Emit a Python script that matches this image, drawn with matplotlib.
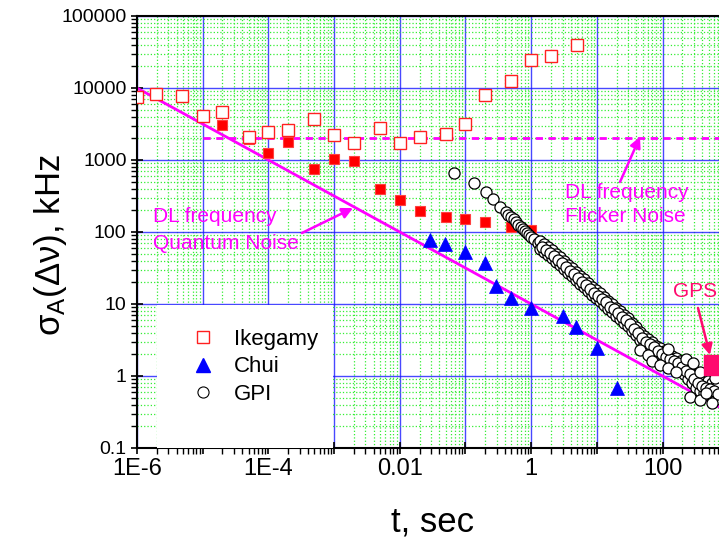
import math
import matplotlib
matplotlib.use('Agg')
import matplotlib.pyplot as plt
from matplotlib.ticker import LogLocator, FuncFormatter, NullFormatter
from matplotlib.patches import Rectangle
from matplotlib.lines import Line2D

plt.rcParams['font.family'] = ['Liberation Sans', 'DejaVu Sans']
plt.rcParams['mathtext.fontset'] = 'custom'
plt.rcParams['mathtext.rm'] = 'Liberation Sans'
plt.rcParams['mathtext.it'] = 'Liberation Sans'
plt.rcParams['mathtext.bf'] = 'Liberation Sans:bold'

# ---------------- data ----------------
ike_open_t = [1e-6, 1.95e-6, 4.8e-6, 1e-5, 2e-5, 5e-5, 1e-4, 2e-4, 5e-4, 1e-3, 2e-3,
              5e-3, 0.01, 0.02, 0.05, 0.1, 0.2, 0.5, 1.0, 2.0, 5.0]
ike_open_s = [7500, 8250, 7740, 4070, 4640, 2090, 2450, 2610, 3720, 2220, 1720,
              2780, 1720, 2090, 2300, 3160, 8000, 12500, 24500, 27800, 39500]

ike_fill_t = [2e-5, 5e-5, 1e-4, 2e-4, 5e-4, 1e-3, 2e-3, 5e-3, 0.01, 0.02, 0.05,
              0.1, 0.2, 0.5, 1.0]
ike_fill_s = [3060, 1960, 1250, 1780, 750, 1030, 970, 395, 278, 196, 162,
              151, 138, 117, 107]

chui_t = [0.029, 0.049, 0.1, 0.2, 0.29, 0.49, 1.0, 3.0, 4.8, 10.0, 20.3]
chui_s = [77, 68, 53, 37, 17.8, 12.1, 8.8, 6.8, 4.8, 2.45, 0.68]

gpi_t = [0.0668, 0.135, 0.205, 0.262, 0.335, 0.413, 0.45, 0.493, 0.54, 0.587, 0.64,
         0.700, 0.75, 0.805, 0.86, 0.925, 1.0, 1.10, 1.27, 1.51, 1.74,
         1.36, 1.36, 1.57, 1.57, 1.80, 1.80, 2.07, 2.07, 2.38, 2.38, 2.74, 2.74,
         3.16, 3.16, 3.63, 3.63, 4.18, 4.18, 4.81, 4.81, 5.53, 5.53, 6.37, 6.37,
         7.32, 7.32, 8.42, 8.42, 9.69, 9.69, 11.1, 11.1, 12.8, 12.8, 14.8, 14.8,
         17.0, 17.0, 19.5, 19.5, 22.5, 22.5, 25.8, 25.8, 29.7, 29.7, 34.2, 34.2,
         39.4, 39.4, 45.3, 45.3, 52.1, 52.1, 60.0, 60.0, 69.0, 69.0, 79.4, 79.4,
         91.3, 91.3, 105, 105, 121, 121, 139, 139, 160, 160, 184, 184, 212, 212,
         244, 244, 281, 281, 322, 322, 371, 371, 427, 427, 491, 491, 565, 565,
         650, 650,
         1.46, 1.69, 1.93, 2.22, 2.56, 2.94, 3.39, 3.90, 4.48, 5.16, 5.93, 6.83,
         7.85, 9.03, 10.4, 11.9, 13.7, 15.9, 18.2, 20.9, 24.1, 27.7, 31.9, 36.7,
         42.3, 48.6, 55.9, 64.4, 74.0, 85.2, 97.9, 113, 130, 149, 172, 197, 227,
         262, 301, 346, 398, 458, 527, 606, 697,
         45.3, 60.0, 69.0, 91.3, 121, 160, 121, 230, 290,
         261, 371, 565, 458, 371, 628]
gpi_s = [659, 480, 359, 287, 222, 190, 175, 162, 150, 138, 127,
         117, 110, 103, 97, 90.8, 85, 80, 70.4, 60, 51,
         75.0, 58.1, 68.1, 52.7, 61.9, 47.9, 56.2, 43.5, 49.5, 38.3, 45.0, 34.8,
         39.6, 30.6, 34.8, 27.0, 31.6, 24.5, 27.8, 21.5, 24.5, 19.0, 22.2, 17.2,
         19.6, 15.2, 17.2, 13.3, 15.6, 12.1, 14.2, 11.0, 12.5, 9.69, 11.0, 8.52,
         10.0, 7.74, 8.80, 6.81, 8.0, 6.19, 7.03, 5.45, 6.39, 4.95, 5.45, 4.22,
         4.79, 3.71, 4.08, 3.16, 3.59, 2.78, 3.27, 2.53, 2.97, 2.30, 2.61, 2.02,
         2.45, 1.90, 2.22, 1.72, 2.09, 1.62, 1.90, 1.47, 1.78, 1.38, 1.62, 1.25,
         1.47, 1.07, 1.33, 0.908, 1.17, 0.80, 1.07, 0.681, 0.968, 0.619, 0.908, 0.58,
         0.852, 0.545, 0.80, 0.511, 0.75, 0.48,
         62.7, 56.9, 51.8, 46.9, 41.3, 37.6, 33.1, 29.1, 26.4, 23.3, 20.5, 18.5,
         16.4, 14.3, 13.0, 11.9, 10.5, 9.2, 8.4, 7.4, 6.7, 5.9, 5.3, 4.55,
         4.0, 3.4, 3.0, 2.75, 2.5, 2.2, 2.05, 1.86, 1.75, 1.6, 1.5, 1.35, 1.19,
         1.05, 0.92, 0.81, 0.73, 0.69, 0.65, 0.61, 0.57,
         2.30, 1.96, 1.62, 1.42, 1.29, 1.14, 2.40, 1.75, 1.52,
         0.51, 0.46, 0.42, 0.58, 1.14, 0.94]

gps_t = [606]
gps_s = [1.42]

quantum_t = [1e-6, 1e3]
quantum_s = [1e4, 0.3162]
flicker_t = [1e-5, 1e3]
flicker_s = [2000, 2000]

x_labels = {-6: '1E-6', -4: '1E-4', -2: '0.01', 0: '1', 2: '100'}
y_labels = {-1: '0.1', 0: '1', 1: '10', 2: '100', 3: '1000', 4: '10000', 5: '100000'}

MAG = '#ff00ff'
PINK = '#ff0a6e'

# ---------------- figure ----------------
fig = plt.figure(figsize=(7.19, 5.41), dpi=100)
ax = fig.add_axes([137/719, 1 - 448/541, (728.3 - 137)/719, (448 - 16)/541])
ax.set_xscale('log')
ax.set_yscale('log')
ax.set_xlim(1e-6, 1e3)
ax.set_ylim(0.1, 1e5)

ax.xaxis.set_major_locator(LogLocator(base=10, numticks=20))
ax.yaxis.set_major_locator(LogLocator(base=10, numticks=20))
ax.xaxis.set_minor_locator(LogLocator(base=10, subs=range(2, 10), numticks=100))
ax.yaxis.set_minor_locator(LogLocator(base=10, subs=range(2, 10), numticks=100))

def xfmt(v, pos):
    e = int(round(math.log10(v)))
    return x_labels.get(e, '')
def yfmt(v, pos):
    e = int(round(math.log10(v)))
    return y_labels.get(e, '')
ax.xaxis.set_major_formatter(FuncFormatter(xfmt))
ax.yaxis.set_major_formatter(FuncFormatter(yfmt))
ax.xaxis.set_minor_formatter(NullFormatter())
ax.yaxis.set_minor_formatter(NullFormatter())

ax.grid(which='minor', color='#33ee33', linestyle=':', linewidth=0.9, zorder=0)
ax.grid(which='major', color='#1a1aff', linestyle='-', linewidth=1.0, alpha=0.8, zorder=0)
ax.set_axisbelow(True)

ax.tick_params(axis='both', which='major', direction='inout', length=9, width=1.2, color='black')
ax.tick_params(axis='both', which='minor', direction='out', length=4, width=1.0, color='black')
ax.tick_params(axis='x', which='major', labelsize=17, pad=3)
ax.tick_params(axis='y', which='major', labelsize=14, pad=3)
for sp in ax.spines.values():
    sp.set_linewidth(1.5)

# lines
ax.plot(quantum_t, quantum_s, color=MAG, lw=2.0, zorder=2)
ax.plot(flicker_t, flicker_s, color=MAG, lw=2.0, dashes=(2.6, 2.0), zorder=2)

# data
ax.plot(ike_fill_t, ike_fill_s, 's', ms=7.5, mfc='#ff0000', mec='#ff4040', mew=0.8, zorder=3)
ax.plot(ike_open_t, ike_open_s, 's', ms=9, mfc='white', mec='#ff2020', mew=1.0, zorder=3)
ax.plot(chui_t, chui_s, '^', ms=10, mfc='#0000ff', mec='#0000ff', mew=0.5, zorder=3)
ax.plot(gpi_t, gpi_s, 'o', ms=8, mfc='white', mec='black', mew=0.9, zorder=4)
ax.plot(gps_t, gps_s, 's', ms=14, mfc=PINK, mec=PINK, zorder=5, clip_on=False)

# annotations
ax.text(1.75e-6, 162, 'DL frequency', color=MAG, fontsize=15, ha='left', va='center')
ax.text(1.75e-6, 70.3, 'Quantum Noise', color=MAG, fontsize=15, ha='left', va='center')
ax.annotate('', xy=(1.94e-3, 215), xytext=(3.24e-4, 96.9),
            arrowprops=dict(arrowstyle='-|>', color=MAG, lw=1.8, mutation_scale=16,
                            shrinkA=0, shrinkB=0))
ax.text(3.27, 359, 'DL frequency', color=MAG, fontsize=15, ha='left', va='center')
ax.text(3.27, 162, 'Flicker Noise', color=MAG, fontsize=15, ha='left', va='center')
ax.annotate('', xy=(45.3, 2100), xytext=(22.5, 495),
            arrowprops=dict(arrowstyle='-|>', color=MAG, lw=1.8, mutation_scale=16,
                            shrinkA=0, shrinkB=0))
ax.text(143, 14.7, 'GPS', color=PINK, fontsize=15, ha='left', va='center')
ax.annotate('', xy=(526, 1.96), xytext=(346, 8.8),
            arrowprops=dict(arrowstyle='-|>', color=PINK, lw=1.8, mutation_scale=16,
                            shrinkA=0, shrinkB=0))

# legend with white background
ax.add_patch(Rectangle((0.034, 0.0), 0.298, 0.331, transform=ax.transAxes,
                       facecolor='white', edgecolor='none', zorder=6))
handles = [
    Line2D([], [], ls='none', marker='s', ms=8, mfc='white', mec='#ff2020', mew=1.0),
    Line2D([], [], ls='none', marker='^', ms=10, mfc='#0000ff', mec='#0000ff'),
    Line2D([], [], ls='none', marker='o', ms=8, mfc='white', mec='black', mew=0.8),
]
leg = ax.legend(handles, ['Ikegamy', 'Chui', 'GPI'], loc='upper left',
                bbox_to_anchor=(0.093, 0.276), frameon=False, fontsize=16,
                handlelength=1.0, handletextpad=0.9, labelspacing=0.30,
                borderpad=0, borderaxespad=0)
leg.set_zorder(7)

ax.set_xlabel('t, sec', fontsize=25, labelpad=18)
ax.set_ylabel(r'$\sigma_A(\Delta\nu)$, kHz', fontsize=25)
ax.yaxis.set_label_coords(-0.115, 0.47)

fig.savefig('out.png', dpi=100)
